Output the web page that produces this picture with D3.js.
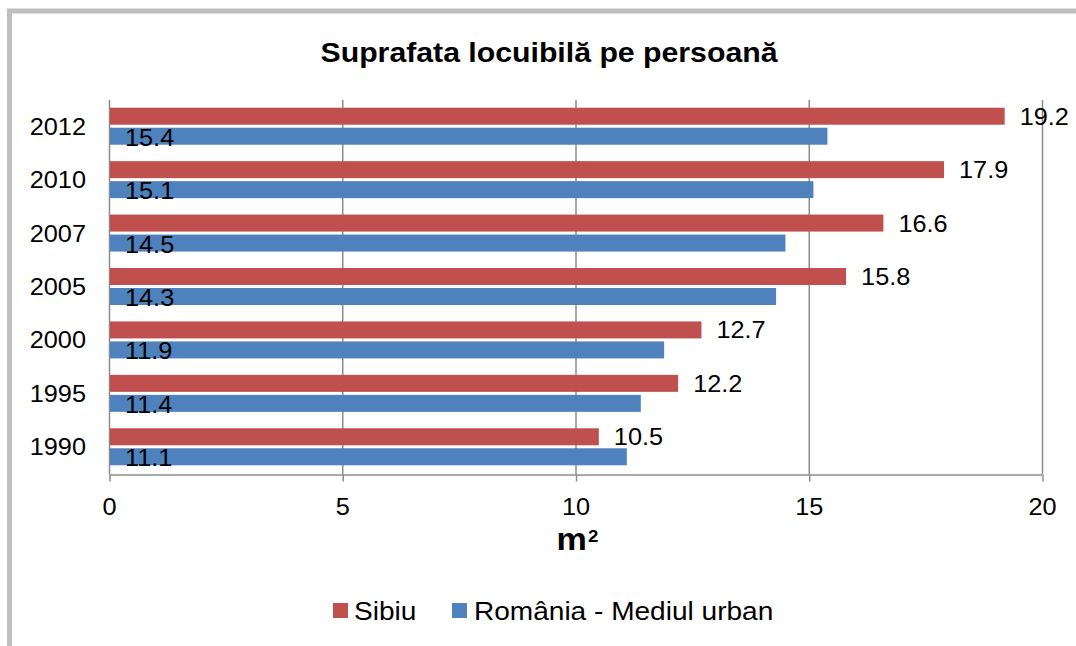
<!DOCTYPE html>
<html>
<head>
<meta charset="utf-8">
<script src="https://cdn.jsdelivr.net/npm/d3@7"></script>
<style>
  html, body { margin: 0; padding: 0; background: #fff; }
  svg { display: block; font-family: "Liberation Sans", Arial, sans-serif; }
</style>
</head>
<body>
<div id="chart"></div>
<script>
// data
var years = ['2012', '2010', '2007', '2005', '2000', '1995', '1990'];
var sibiu = [19.2, 17.9, 16.6, 15.8, 12.7, 12.2, 10.5];
var romania = [15.4, 15.1, 14.5, 14.3, 11.9, 11.4, 11.1];
var xTicks = [0, 5, 10, 15, 20];
var seriesNames = ['Sibiu', 'România - Mediul urban'];
var colors = ['#C0504D', '#4F81BD'];

var W = 1076, H = 646;
var plot = {left: 109, right: 1042, top: 100, bottom: 474};
var sx = 1.1; // the original picture is a bit wider than tall

function place(x, y) {
  return 'translate(' + x + ',' + y + ') scale(' + sx + ',1)';
}

var svg = d3.select('#chart').append('svg')
    .attr('width', W)
    .attr('height', H);

// outer frame (runs off the right and bottom edge)
svg.append('rect')
    .attr('x', 9.5).attr('y', 11)
    .attr('width', 1200).attr('height', 1000)
    .attr('fill', 'none')
    .attr('stroke', '#bfbfbf')
    .attr('stroke-width', 5);

svg.append('text')
    .attr('transform', place(549, 62))
    .attr('text-anchor', 'middle')
    .style('font-size', '27.5px')
    .style('font-weight', 'bold')
    .text('Suprafata locuibilă pe persoană');

var x = d3.scaleLinear().domain([0, 20]).range([plot.left, plot.right]);
var y = d3.scaleBand().domain(years).range([plot.top, plot.bottom]).padding(0);

// gridlines
svg.append('g')
    .selectAll('line')
    .data(xTicks)
    .enter().append('line')
    .attr('x1', function(d) { return x(d) + 0.5; })
    .attr('x2', function(d) { return x(d) + 0.5; })
    .attr('y1', plot.top)
    .attr('y2', plot.bottom)
    .attr('stroke', '#8c8c8c')
    .attr('stroke-width', 1.5);

// x axis
var xAxis = svg.append('g')
    .attr('transform', 'translate(0,' + (plot.bottom + 0.5) + ')')
    .call(d3.axisBottom(x).tickValues(xTicks).tickSize(7).tickSizeOuter(0).tickPadding(17));
xAxis.select('.domain').attr('stroke', '#8c8c8c').attr('stroke-width', 1.5);
xAxis.selectAll('.tick line').attr('stroke', '#8c8c8c').attr('stroke-width', 1.5)
    .attr('transform', 'translate(0.5,0)');
xAxis.selectAll('.tick text')
    .style('font-size', '23px')
    .style('font-family', '"Liberation Sans", Arial, sans-serif')
    .attr('fill', '#000')
    .attr('transform', 'scale(' + sx + ',1)');

// y labels
svg.append('g')
    .selectAll('text')
    .data(years)
    .enter().append('text')
    .attr('transform', function(d) { return place(86, y(d) + y.bandwidth() / 2 + 8); })
    .attr('text-anchor', 'end')
    .style('font-size', '23px')
    .text(function(d) { return d; });

var barH = 17;

// Sibiu bars
svg.append('g')
    .selectAll('rect')
    .data(years)
    .enter().append('rect')
    .attr('x', x(0) + 1)
    .attr('y', function(d) { return y(d) + y.bandwidth() / 2 - 19; })
    .attr('width', function(d, i) { return x(sibiu[i]) - x(0) - 1; })
    .attr('height', barH)
    .attr('fill', colors[0]);

// Romania bars
svg.append('g')
    .selectAll('rect')
    .data(years)
    .enter().append('rect')
    .attr('x', x(0) + 1)
    .attr('y', function(d) { return y(d) + y.bandwidth() / 2 + 1; })
    .attr('width', function(d, i) { return x(romania[i]) - x(0) - 1; })
    .attr('height', barH)
    .attr('fill', colors[1]);

// labels Sibiu: right of the bar end
svg.append('g')
    .selectAll('text')
    .data(years)
    .enter().append('text')
    .attr('transform', function(d, i) { return place(x(sibiu[i]) + 15, y(d) + y.bandwidth() / 2 - 2); })
    .style('font-size', '23px')
    .text(function(d, i) { return sibiu[i].toFixed(1); });

// labels Romania: at the start of the bar
svg.append('g')
    .selectAll('text')
    .data(years)
    .enter().append('text')
    .attr('transform', function(d) { return place(125, y(d) + y.bandwidth() / 2 + 19); })
    .style('font-size', '23px')
    .text(function(d, i) { return romania[i].toFixed(1); });

// axis title: m with a raised 2
var unit = svg.append('text')
    .attr('transform', place((plot.left + plot.right) / 2 + 2, 550))
    .attr('text-anchor', 'middle')
    .style('font-weight', 'bold');
unit.append('tspan')
    .style('font-size', '31px')
    .text('m');
unit.append('tspan')
    .attr('dx', 1)
    .attr('dy', -8)
    .style('font-size', '17px')
    .text('2');

// legend
var legendX = [333, 452];
var legend = svg.append('g')
    .selectAll('g')
    .data(seriesNames)
    .enter().append('g')
    .attr('transform', function(d, i) { return 'translate(' + legendX[i] + ',603)'; });
legend.append('rect')
    .attr('width', 15).attr('height', 15)
    .attr('fill', function(d, i) { return colors[i]; });
legend.append('text')
    .attr('transform', function(d, i) { return place(i === 0 ? 21 : 22, 17); })
    .style('font-size', '25.5px')
    .text(function(d) { return d; });
</script>
</body>
</html>
